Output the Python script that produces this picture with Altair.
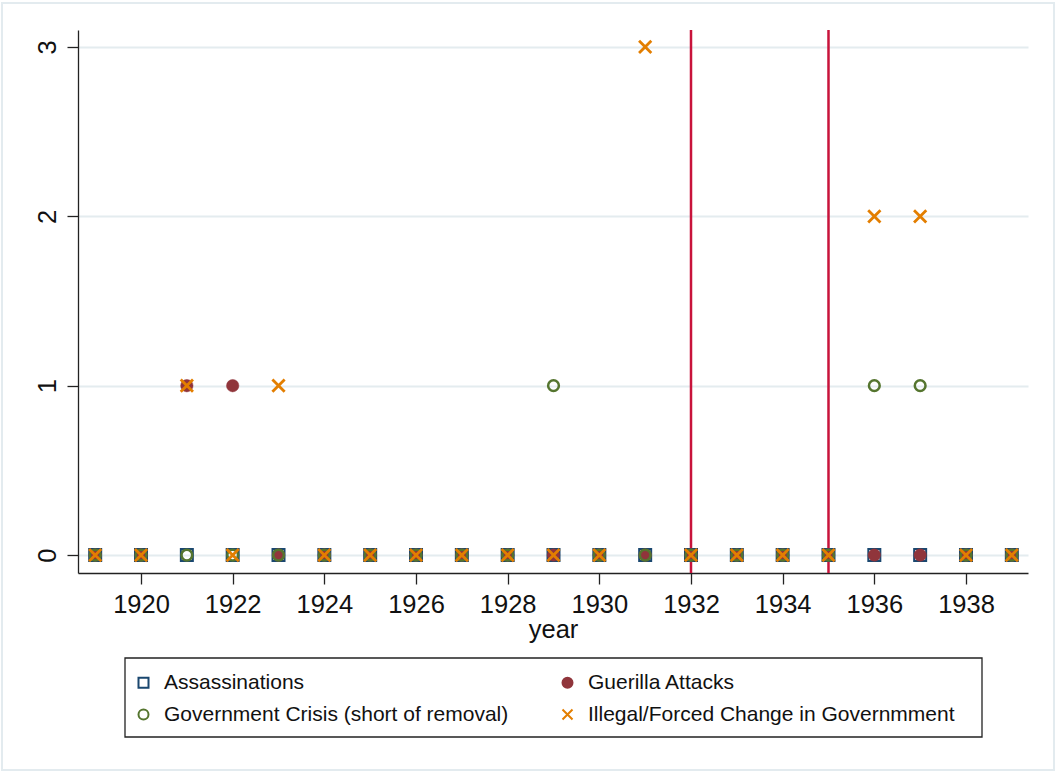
import altair as alt
import pandas as pd

# Yearly event counts, 1919-1939
years = [1919, 1920, 1921, 1922, 1923, 1924, 1925, 1926, 1927, 1928, 1929,
         1930, 1931, 1932, 1933, 1934, 1935, 1936, 1937, 1938, 1939]
assassinations = [0, 0, 0, 0, 0, 0, 0, 0, 0, 0, 0, 0, 0, 0, 0, 0, 0, 0, 0, 0, 0]
guerilla_attacks = [0, 0, 1, 1, 0, 0, 0, 0, 0, 0, 0, 0, 0, 0, 0, 0, 0, 0, 0, 0, 0]
government_crisis = [0, 0, 0, 0, 0, 0, 0, 0, 0, 0, 1, 0, 0, 0, 0, 0, 0, 1, 1, 0, 0]
illegal_change = [0, 0, 1, 0, 1, 0, 0, 0, 0, 0, 0, 0, 3, 0, 0, 0, 0, 2, 2, 0, 0]

series_names = [
    "Assassinations",
    "Guerilla Attacks",
    "Government Crisis (short of removal)",
    "Illegal/Forced Change in Governmment",
]
series_values = [assassinations, guerilla_attacks, government_crisis, illegal_change]

# Vertical reference lines
marker_years = [1932, 1935]

x_ticks = [1920, 1922, 1924, 1926, 1928, 1930, 1932, 1934, 1936, 1938]
y_ticks = [0, 1, 2, 3]

rows = []
for name, vals in zip(series_names, series_values):
    for yr, v in zip(years, vals):
        rows.append({"year": yr, "value": v, "series": name})
df = pd.DataFrame(rows)

NAVY = "#1a476f"
MAROON = "#90353b"
GREEN = "#55752f"
ORANGE = "#e37e00"
X_PATH = "M-1,-1L1,1M-1,1L1,-1"

stroke_scale = alt.Scale(domain=series_names, range=[NAVY, MAROON, GREEN, ORANGE])
fill_scale = alt.Scale(domain=series_names,
                       range=["transparent", MAROON, "transparent", "transparent"])
shape_scale = alt.Scale(domain=series_names,
                        range=["square", "circle", "circle", X_PATH])

legend = alt.Legend(
    title=None,
    orient="none",
    direction="horizontal",
    legendX=47,
    legendY=628,
    columns=2,
    columnPadding=49,
    rowPadding=10,
    padding=14,
    labelFontSize=21,
    labelFont="Liberation Sans",
    labelColor="#111111",
    labelLimit=600,
    labelOffset=10,
    symbolOffset=-6,
    symbolSize=100,
    symbolStrokeWidth=2,
)

x_enc = alt.X(
    "year:Q",
    scale=alt.Scale(domain=[1918.625, 1939.353], nice=False, zero=False),
    axis=alt.Axis(values=x_ticks, format="d", title="year", grid=False,
                  tickSize=11, labelPadding=8, titlePadding=0,
                  labelFontSize=25.5, titleFontSize=25.5,
                  labelFlush=False),
)
y_enc = alt.Y(
    "value:Q",
    scale=alt.Scale(domain=[-0.106, 3.1], nice=False, zero=False),
    axis=alt.Axis(values=y_ticks, format="d", title=None, grid=True,
                  tickSize=11, labelPadding=7, labelAngle=270,
                  labelAlign="center", labelBaseline="bottom",
                  labelFontSize=25.5, labelFlush=False),
)

marker_style = {
    "Assassinations": dict(size=144, strokeWidth=2.0),
    "Guerilla Attacks": dict(size=154, strokeWidth=0.5),
    "Government Crisis (short of removal)": dict(size=115, strokeWidth=2.5),
    "Illegal/Forced Change in Governmment": dict(size=150, strokeWidth=2.8),
}

layers = []
for name in series_names:
    style = marker_style[name]
    layer = (
        alt.Chart(df)
        .transform_filter(alt.datum.series == name)
        .mark_point(opacity=1, **style)
        .encode(
            x=x_enc,
            y=y_enc,
            stroke=alt.Stroke("series:N", scale=stroke_scale, legend=legend),
            fill=alt.Fill("series:N", scale=fill_scale, legend=legend),
            shape=alt.Shape("series:N", scale=shape_scale, legend=legend),
        )
    )
    layers.append(layer)

rules = (
    alt.Chart(pd.DataFrame({"year": marker_years}))
    .mark_rule(color="#c8133b", strokeWidth=2.5)
    .encode(x=alt.X("year:Q"))
)

# Light outer frame around the whole graph
frame = (
    alt.Chart(pd.DataFrame({"k": [0]}))
    .mark_rect(filled=False, stroke="#e3ebef", strokeWidth=2, clip=False)
    .encode(x=alt.value(-76), x2=alt.value(976), y=alt.value(-27), y2=alt.value(740))
)

# Box drawn around the legend entries
legend_box = (
    alt.Chart(pd.DataFrame({"k": [0]}))
    .mark_rect(filled=False, stroke="#222222", strokeWidth=1.3, clip=False)
    .encode(x=alt.value(47), x2=alt.value(904), y=alt.value(628), y2=alt.value(707))
)

chart = (
    alt.layer(frame, legend_box, rules, *layers)
    .properties(
        width=950,
        height=543,
        autosize=alt.AutoSizeParams(type="none"),
        padding={"left": 78, "top": 30, "right": 29, "bottom": 199},
        background="white",
    )
    .configure_view(stroke=None)
    .configure_axis(
        labelFont="Liberation Sans",
        titleFont="Liberation Sans",
        titleFontWeight="normal",
        labelColor="#111111",
        titleColor="#111111",
        domainColor="#222222",
        domainWidth=1.3,
        tickColor="#222222",
        tickWidth=1.3,
        gridColor="#e4ecef",
        gridWidth=2,
    )
)

chart.save("out.html", embed_options={"renderer": "svg", "actions": False})
